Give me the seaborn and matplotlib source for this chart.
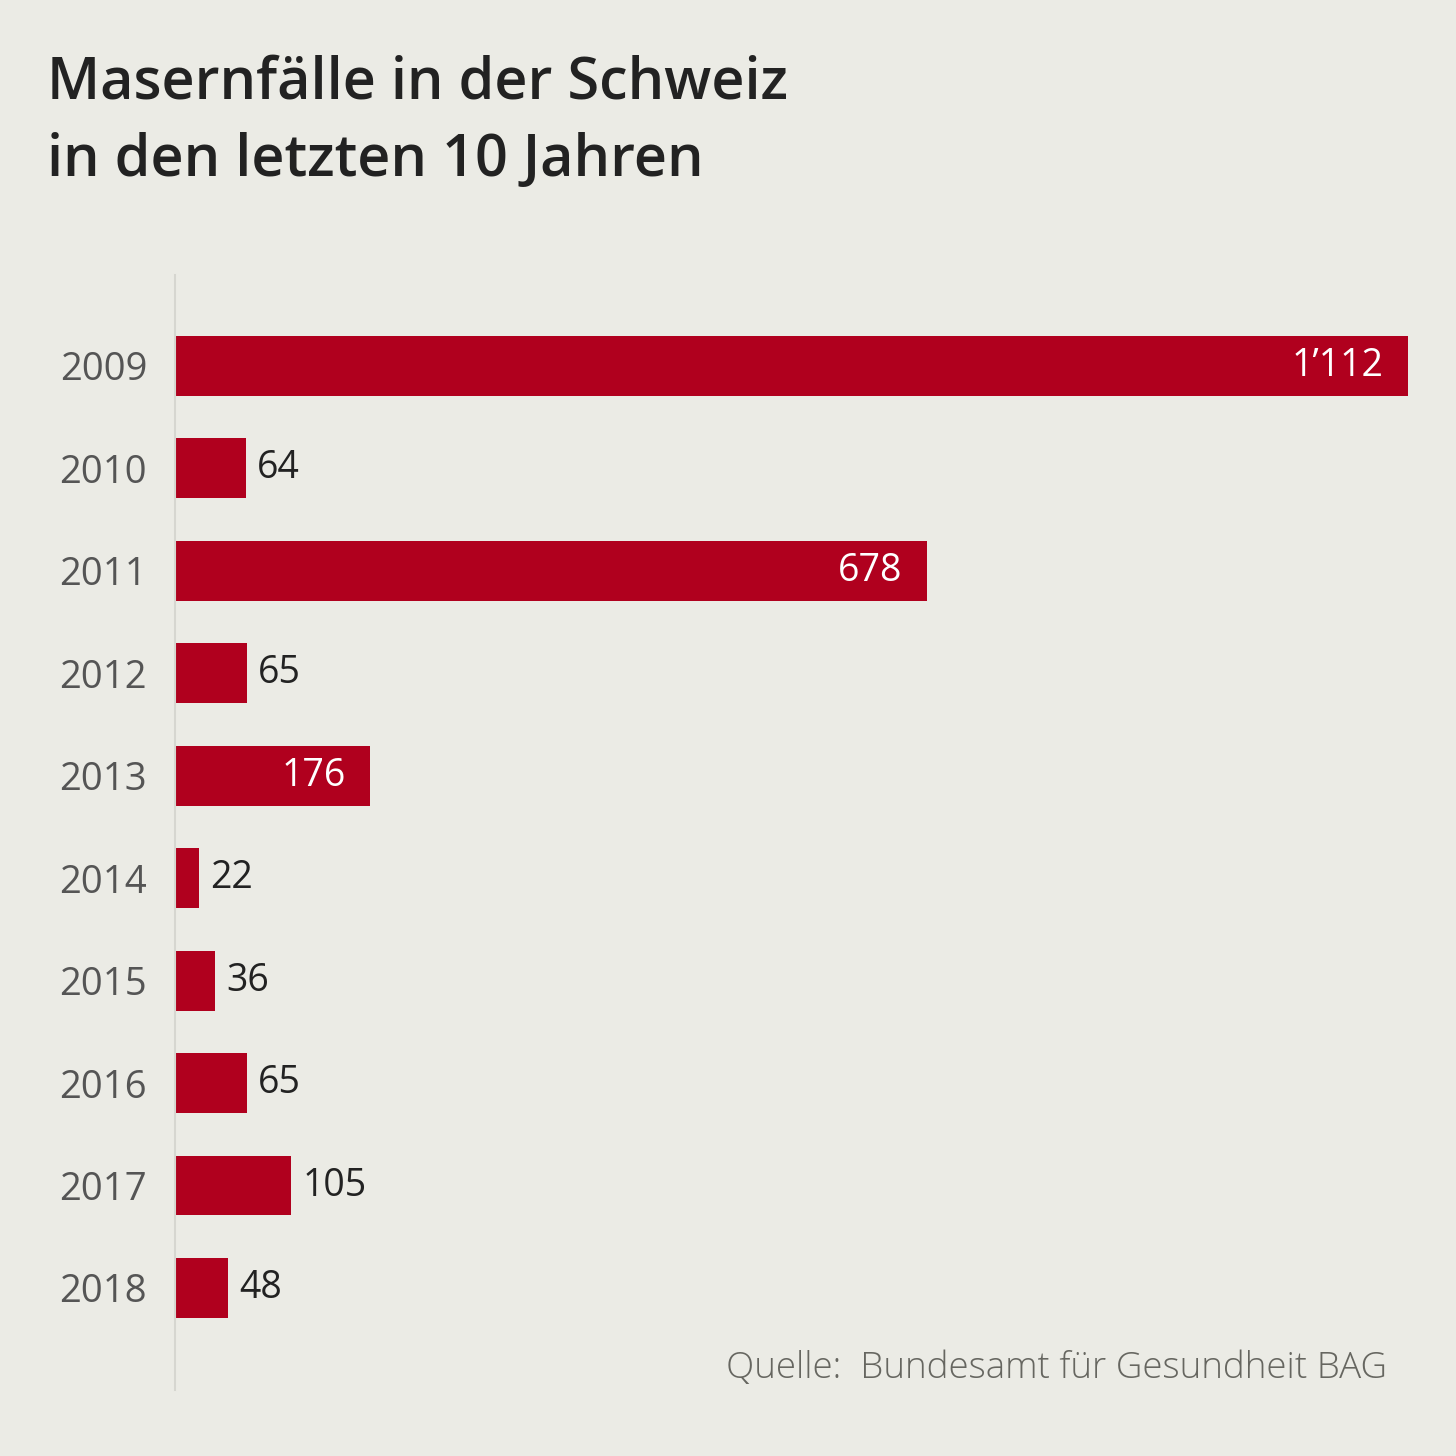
import matplotlib
matplotlib.use("Agg")
import matplotlib.pyplot as plt
import pandas as pd
import seaborn as sns

years = ["2009", "2010", "2011", "2012", "2013", "2014", "2015", "2016", "2017", "2018"]
cases = [1112, 64, 678, 65, 176, 22, 36, 65, 105, 48]
labels = ["1\u2019112", "64", "678", "65", "176", "22", "36", "65", "105", "48"]

title = "Masernfälle in der Schweiz\nin den letzten 10 Jahren"
source = "Quelle:  Bundesamt für Gesundheit BAG"

bg = "#EBEBE5"
red = "#B0001E"

df = pd.DataFrame({"Jahr": years, "Fälle": cases})

sns.set_theme(style="white")
plt.rcParams["font.family"] = ["Open Sans", "DejaVu Sans"]

fig = plt.figure(figsize=(14.56, 14.56), dpi=100, facecolor=bg)
ax = fig.add_axes([175 / 1456, 1 - 1390 / 1456, (1408 - 175) / 1456, (1390 - 275) / 1456])
ax.set_facecolor(bg)

sns.barplot(data=df, x="Fälle", y="Jahr", color=red, saturation=1, width=0.585,
            linewidth=0, ax=ax)

ax.set_xlim(0, 1112)
ax.set_ylim(9.996, -0.888)
ax.set_xlabel("")
ax.set_ylabel("")
ax.set_xticks([])
for s in ["top", "right", "bottom"]:
    ax.spines[s].set_visible(False)
ax.spines["left"].set_color("#D6D6D0")
ax.spines["left"].set_linewidth(1.5)
ax.tick_params(axis="y", length=0, pad=20, labelsize=27.5, labelcolor="#555555")

# value labels: inside (white) for long bars, outside for short ones
inside = {0, 2, 4}
for i, (v, lab) in enumerate(zip(cases, labels)):
    if i in inside:
        ax.text(v - 22, i, lab, ha="right", va="center", color="white", fontsize=27)
    else:
        ax.text(v + 10, i, lab, ha="left", va="center", color="#222222", fontsize=27)

fig.text(47 / 1456, 1 - 122 / 1456, title, ha="left", va="center", fontsize=41.5,
         fontweight="semibold", color="#222222", linespacing=1.45)
fig.text(1387 / 1456, 1 - 1369 / 1456, source, ha="right", va="center", fontsize=26.5,
         fontweight="light", color="#666660")

fig.savefig("out.png", dpi=100, facecolor=bg)
